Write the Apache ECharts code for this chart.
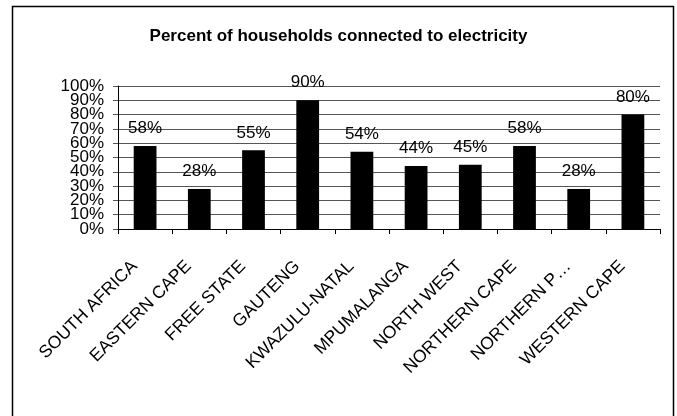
<!DOCTYPE html>
<html>
<head>
<meta charset="utf-8">
<script src="https://cdn.jsdelivr.net/npm/echarts@6/dist/echarts.min.js"></script>
<style>
  html, body { margin: 0; padding: 0; background: #fff; }
  #chart { width: 677px; height: 416px; }
</style>
</head>
<body>
<div id="chart"></div>
<script>
// Provinces and the share of households connected to electricity
const categories = ['SOUTH AFRICA', 'EASTERN CAPE', 'FREE STATE', 'GAUTENG', 'KWAZULU-NATAL',
  'MPUMALANGA', 'NORTH WEST', 'NORTHERN CAPE', 'NORTHERN P…', 'WESTERN CAPE'];
const connectedPct = [58, 28, 55, 90, 54, 44, 45, 58, 28, 80];
const yTicks = [0, 10, 20, 30, 40, 50, 60, 70, 80, 90, 100];

const font = 'Liberation Sans, Arial, sans-serif';
const labelBase = { fontFamily: font, fontSize: 17, color: '#000', margin: 14,
  showMinLabel: true, showMaxLabel: true, hideOverlap: false };

// The percent labels are packed tighter than their own height, so the even and odd
// ticks are labelled by two coincident axes to keep every label visible.
const yBase = {
  type: 'value', min: yTicks[0], max: yTicks[yTicks.length - 1], interval: 10,
  position: 'left'
};

const chart = echarts.init(document.getElementById('chart'));
chart.setOption({
  animation: false,
  title: {
    text: 'Percent of households connected to electricity',
    left: 'center', top: 23,
    textStyle: { fontFamily: font, fontSize: 17, fontWeight: 'bold', color: '#000' }
  },
  graphic: [{
    type: 'rect', shape: { x: 12.5, y: 6.5, width: 661, height: 430 },
    style: { fill: null, stroke: '#000', lineWidth: 1.5 }, silent: true
  }],
  grid: { left: 118, right: 17, top: 86, bottom: 187 },
  xAxis: {
    type: 'category', data: categories,
    axisLine: { lineStyle: { color: '#000' } },
    axisTick: { show: true, length: 5, lineStyle: { color: '#000' } },
    axisLabel: { rotate: 45, fontFamily: font, fontSize: 17.5, color: '#000', margin: 24, interval: 0,
      padding: [0, 15, 0, 0], hideOverlap: false }
  },
  yAxis: [
    Object.assign({}, yBase, {
      axisLine: { show: true, lineStyle: { color: '#000' } },
      axisTick: { show: true, length: 5, lineStyle: { color: '#555' } },
      splitLine: { lineStyle: { color: '#555', width: 1 } },
      axisLabel: Object.assign({}, labelBase, {
        formatter: v => (v % 20 === 0 ? v + '%' : '')
      })
    }),
    Object.assign({}, yBase, {
      axisLine: { show: false },
      axisTick: { show: false },
      splitLine: { show: false },
      axisLabel: Object.assign({}, labelBase, {
        formatter: v => (v % 20 !== 0 ? v + '%' : '')
      })
    })
  ],
  series: [{
    type: 'bar', data: connectedPct, barWidth: '42%', yAxisIndex: 0,
    itemStyle: { color: '#000' },
    label: { show: true, position: 'top', distance: 9, formatter: '{c}%',
      fontFamily: font, fontSize: 17, color: '#000' }
  }]
});
</script>
</body>
</html>
